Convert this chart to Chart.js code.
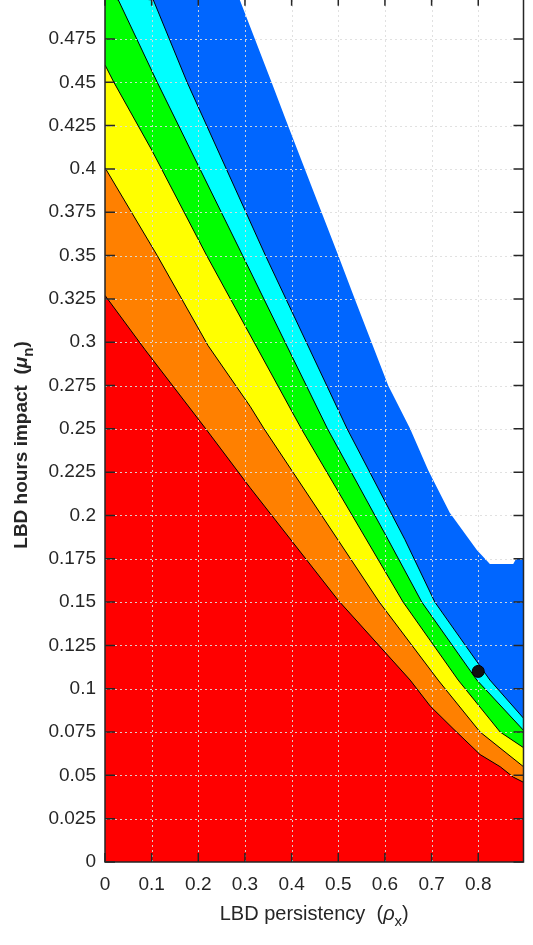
<!DOCTYPE html>
<html>
<head>
<meta charset="utf-8">
<script src="https://cdn.jsdelivr.net/npm/chart.js@4.4.1/dist/chart.umd.min.js"></script>
<style>
  html, body { margin: 0; padding: 0; background: #fff; }
</style>
</head>
<body>
<canvas id="chart" width="533" height="945"></canvas>
<script>
// --- Data (x = LBD persistency, y = LBD hours impact) ---
const xTicks = [0, 0.1, 0.2, 0.3, 0.4, 0.5, 0.6, 0.7, 0.8];
const yTicks = [0, 0.025, 0.05, 0.075, 0.1, 0.125, 0.15, 0.175, 0.2, 0.225, 0.25,
                0.275, 0.3, 0.325, 0.35, 0.375, 0.4, 0.425, 0.45, 0.475];

// upper edge of each filled band
const redTopX    = [0, 0.086, 0.216, 0.311, 0.5, 0.654, 0.697, 0.746, 0.804, 0.847, 0.875, 0.897];
const redTopY    = [0.327, 0.2956, 0.25, 0.216, 0.151, 0.105, 0.090, 0.077, 0.062, 0.055, 0.049, 0.046];
const orangeTopX = [0, 0.112, 0.221, 0.311, 0.341, 0.588, 0.714, 0.804, 0.897];
const orangeTopY = [0.4007, 0.35, 0.298, 0.263, 0.25, 0.15, 0.105, 0.075, 0.055];
const yellowTopX = [0, 0.019, 0.1, 0.218, 0.421, 0.639, 0.757, 0.847, 0.897];
const yellowTopY = [0.46, 0.45, 0.411, 0.35, 0.25, 0.15, 0.105, 0.075, 0.066];
const greenTopX  = [0, 0.0286, 0.112, 0.295, 0.477, 0.607, 0.679, 0.797, 0.897];
const greenTopY  = [0.5, 0.4975, 0.45, 0.35, 0.25, 0.186, 0.15, 0.105, 0.076];
const cyanTopX   = [0, 0.1036, 0.176, 0.344, 0.519, 0.643, 0.707, 0.825, 0.897];
const cyanTopY   = [0.5, 0.4975, 0.45, 0.35, 0.25, 0.186, 0.15, 0.105, 0.083];
const blueTopX   = [0, 0.289, 0.357, 0.393, 0.5, 0.536, 0.607, 0.654, 0.693, 0.739, 0.797, 0.825, 0.875, 0.882, 0.897];
const blueTopY   = [0.5, 0.4975, 0.45, 0.4245, 0.35, 0.3245, 0.275, 0.25, 0.226, 0.2015, 0.18, 0.172, 0.172, 0.1755, 0.1755];

const markerX = [0.8];
const markerY = [0.11];

const X_MAX = 0.897;
const Y_MAX = 0.4975;

const AXIS_COLOR = '#262626';
const TICK_FONT = { family: 'Liberation Sans, Arial, sans-serif', size: 19 };

function pts(xs, ys) {
    return xs.map((x, i) => ({ x: x, y: ys[i] }));
}

function band(label, xs, ys, color, edge) {
    return {
        type: 'line',
        label: label,
        data: pts(xs, ys),
        backgroundColor: color,
        borderColor: edge,
        borderWidth: 1,
        fill: 'start',
        pointRadius: 0,
        tension: 0,
        clip: 0
    };
}

// draws a run of text pieces (with sub/italic parts) centred on cx
function drawRich(ctx, parts, cx, baseY) {
    let total = 0;
    parts.forEach(p => { ctx.font = p.font; p.w = ctx.measureText(p.text).width; total += p.w; });
    let x = cx - total / 2;
    parts.forEach(p => {
        ctx.font = p.font;
        ctx.fillText(p.text, x, baseY + (p.dy || 0));
        x += p.w;
    });
}

// grid on top of the bands, then the marker is drawn over it
const gridOnTop = {
    id: 'gridOnTop',
    afterDatasetDraw(chart, args) {
        if (args.index !== 0) return;
        const { ctx, chartArea: a, scales: { x, y } } = chart;
        ctx.save();
        ctx.strokeStyle = 'rgba(222,222,222,0.9)';
        ctx.lineWidth = 1;
        ctx.setLineDash([2, 3]);
        xTicks.forEach(v => {
            if (v === 0) return;
            const px = Math.round(x.getPixelForValue(v)) + 0.5;
            ctx.beginPath(); ctx.moveTo(px, a.top); ctx.lineTo(px, a.bottom); ctx.stroke();
        });
        yTicks.forEach(v => {
            if (v === 0) return;
            const py = Math.round(y.getPixelForValue(v)) + 0.5;
            ctx.beginPath(); ctx.moveTo(a.left, py); ctx.lineTo(a.right, py); ctx.stroke();
        });
        ctx.restore();
    }
};

// box, inward ticks and axis titles
const frame = {
    id: 'frame',
    afterDraw(chart) {
        const { ctx, chartArea: a, scales: { x, y } } = chart;
        const topPx = y.getPixelForValue(0.5);
        ctx.save();
        ctx.strokeStyle = AXIS_COLOR;
        ctx.lineWidth = 1.5;
        ctx.beginPath();
        ctx.moveTo(a.left, a.top); ctx.lineTo(a.left, a.bottom);
        ctx.lineTo(a.right, a.bottom); ctx.lineTo(a.right, a.top);
        ctx.stroke();

        yTicks.forEach(v => {
            const py = y.getPixelForValue(v);
            ctx.beginPath();
            ctx.moveTo(a.left, py); ctx.lineTo(a.left + 10, py);
            ctx.moveTo(a.right, py); ctx.lineTo(a.right - 10, py);
            ctx.stroke();
        });
        xTicks.forEach(v => {
            const px = x.getPixelForValue(v);
            ctx.beginPath();
            ctx.moveTo(px, a.bottom); ctx.lineTo(px, a.bottom - 9);
            ctx.moveTo(px, topPx); ctx.lineTo(px, topPx + 10);
            ctx.stroke();
        });

        ctx.fillStyle = AXIS_COLOR;
        ctx.textBaseline = 'alphabetic';
        const fam = 'Liberation Sans, Arial, sans-serif';
        drawRich(ctx, [
            { text: 'LBD persistency  (', font: `20px ${fam}` },
            { text: 'ρ', font: `italic 20px ${fam}` },
            { text: 'x', font: `15px ${fam}`, dy: 6 },
            { text: ')', font: `20px ${fam}` }
        ], (a.left + a.right) / 2, 920);

        ctx.translate(27, 445);
        ctx.rotate(-Math.PI / 2);
        drawRich(ctx, [
            { text: 'LBD hours impact  (', font: `bold 19px ${fam}` },
            { text: 'μ', font: `bold italic 19px ${fam}` },
            { text: 'n', font: `bold 15px ${fam}`, dy: 6 },
            { text: ')', font: `bold 19px ${fam}` }
        ], 0, 0);
        ctx.restore();
    }
};

const datasets = [
    band('red', redTopX, redTopY, '#ff0000', '#000000'),
    band('orange', orangeTopX, orangeTopY, '#ff8000', '#000000'),
    band('yellow', yellowTopX, yellowTopY, '#ffff00', '#000000'),
    band('green', greenTopX, greenTopY, '#00ff00', '#000000'),
    band('cyan', cyanTopX, cyanTopY, '#00ffff', '#000000'),
    band('blue', blueTopX, blueTopY, '#0066ff', 'rgba(0,0,0,0)'),
    {
        type: 'scatter',
        label: 'marker',
        data: pts(markerX, markerY),
        pointRadius: 6,
        pointBackgroundColor: '#111111',
        pointBorderColor: '#000000',
        pointBorderWidth: 1,
        order: -1
    }
];

new Chart(document.getElementById('chart'), {
    type: 'line',
    data: { datasets: datasets },
    options: {
        responsive: false,
        animation: false,
        layout: { autoPadding: false, padding: { top: 0, left: 0, right: 9.5, bottom: 0 } },
        plugins: { legend: { display: false }, tooltip: { enabled: false } },
        scales: {
            x: {
                type: 'linear',
                min: 0,
                max: X_MAX,
                grid: { display: false, drawTicks: false },
                border: { display: false },
                afterBuildTicks: s => { s.ticks = xTicks.map(v => ({ value: v })); },
                afterFit: s => { s.height = 83; s.paddingLeft = 0; s.paddingRight = 0; },
                ticks: {
                    autoSkip: false, maxRotation: 0, padding: 11,
                    color: AXIS_COLOR, font: TICK_FONT,
                    callback: v => String(v)
                }
            },
            y: {
                type: 'linear',
                min: 0,
                max: Y_MAX,
                grid: { display: false, drawTicks: false },
                border: { display: false },
                afterBuildTicks: s => { s.ticks = yTicks.map(v => ({ value: v })); },
                afterFit: s => { s.width = 105; s.paddingTop = 0; s.paddingBottom = 0; },
                ticks: {
                    autoSkip: false, padding: 9,
                    color: AXIS_COLOR, font: TICK_FONT,
                    callback: v => String(v)
                }
            }
        }
    },
    plugins: [gridOnTop, frame]
});
</script>
</body>
</html>
